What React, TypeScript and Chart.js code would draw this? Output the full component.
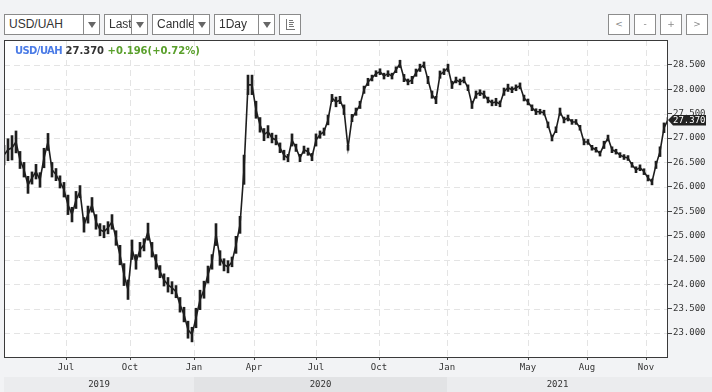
import React, { useEffect, useRef } from "react";
import { Chart, registerables } from "chart.js";

Chart.register(...registerables);

// ---- data (one value every 4 trading sessions) ----
const SESSION_STEP = 4;
const closes = [
  26.65, 26.76, 26.80, 26.92, 26.55, 26.35, 26.04, 26.18, 26.31, 26.14,
  26.59, 26.92, 26.35, 26.25, 26.10, 25.94, 25.63, 25.43, 25.73, 25.90,
  25.22, 25.43, 25.63, 25.28, 25.12, 25.08, 25.16, 25.28, 24.95, 24.60,
  24.20, 23.89, 24.71, 24.46, 24.71, 24.81, 25.08, 24.71, 24.46, 24.26,
  24.09, 23.99, 23.93, 23.85, 23.58, 23.38, 23.07, 22.97, 23.31, 23.68,
  23.89, 24.20, 24.46, 25.02, 24.54, 24.40, 24.36, 24.46, 24.81, 25.22,
  26.35, 28.09, 28.09, 27.58, 27.27, 27.07, 27.13, 27.00, 26.96, 26.80,
  26.65, 26.59, 26.96, 26.80, 26.59, 26.76, 26.72, 26.61, 26.96, 27.07,
  27.13, 27.37, 27.82, 27.74, 27.78, 27.58, 26.80, 27.41, 27.54, 27.68,
  27.99, 28.15, 28.23, 28.32, 28.36, 28.27, 28.32, 28.27, 28.40, 28.52,
  28.23, 28.15, 28.19, 28.34, 28.44, 28.50, 28.19, 27.89, 27.78, 28.30,
  28.36, 28.44, 28.09, 28.19, 28.15, 28.19, 28.03, 27.68, 27.89, 27.93,
  27.89, 27.78, 27.72, 27.74, 27.70, 27.95, 28.03, 27.99, 28.03, 28.07,
  27.82, 27.74, 27.62, 27.54, 27.54, 27.52, 27.27, 27.00, 27.17, 27.54,
  27.37, 27.41, 27.33, 27.33, 27.21, 26.92, 26.92, 26.80, 26.76, 26.68,
  26.86, 27.00, 26.76, 26.72, 26.65, 26.61, 26.59, 26.45, 26.35, 26.39,
  26.31, 26.18, 26.10, 26.45, 26.72, 27.21, 27.37,
];
// high-low spread of each 4-session block (UAH)
const spreads = [
  0.40, 0.45, 0.50, 0.45, 0.35, 0.30, 0.35, 0.25, 0.30, 0.30,
  0.40, 0.35, 0.30, 0.25, 0.25, 0.30, 0.40, 0.30, 0.35, 0.25,
  0.30, 0.35, 0.30, 0.30, 0.25, 0.25, 0.25, 0.30, 0.30, 0.40,
  0.45, 0.40, 0.40, 0.30, 0.30, 0.25, 0.35, 0.30, 0.30, 0.25,
  0.25, 0.30, 0.25, 0.25, 0.30, 0.30, 0.35, 0.30, 0.40, 0.40,
  0.35, 0.35, 0.30, 0.45, 0.30, 0.25, 0.25, 0.20, 0.35, 0.35,
  0.60, 0.40, 0.40, 0.35, 0.30, 0.25, 0.25, 0.20, 0.20, 0.20,
  0.20, 0.15, 0.25, 0.15, 0.15, 0.15, 0.15, 0.15, 0.25, 0.15,
  0.15, 0.20, 0.15, 0.20, 0.15, 0.20, 0.10, 0.15, 0.15, 0.15,
  0.15, 0.15, 0.12, 0.12, 0.12, 0.12, 0.12, 0.12, 0.12, 0.15,
  0.15, 0.12, 0.15, 0.15, 0.15, 0.12, 0.15, 0.15, 0.15, 0.15,
  0.12, 0.15, 0.15, 0.12, 0.12, 0.12, 0.12, 0.15, 0.15, 0.12,
  0.15, 0.12, 0.12, 0.15, 0.12, 0.15, 0.15, 0.12, 0.12, 0.12,
  0.12, 0.12, 0.12, 0.12, 0.10, 0.10, 0.12, 0.12, 0.12, 0.15,
  0.12, 0.12, 0.10, 0.10, 0.10, 0.12, 0.10, 0.10, 0.10, 0.10,
  0.15, 0.12, 0.12, 0.10, 0.10, 0.10, 0.10, 0.10, 0.12, 0.12,
  0.12, 0.12, 0.12, 0.15, 0.20, 0.20, 0.10,
];

const monthLabels = ["Jul", "Oct", "Jan", "Apr", "Jul", "Oct", "Jan", "May", "Aug", "Nov"];
const monthSessions = [62, 126, 190, 250, 312, 375, 443, 524, 583, 642];
const yearLabels = ["2019", "2020", "2021"];
const yearStartSessions = [0, 190, 443];
const yTicks = [23.0, 23.5, 24.0, 24.5, 25.0, 25.5, 26.0, 26.5, 27.0, 27.5, 28.0, 28.5];
const Y_MIN = 22.51;
const Y_MAX = 29.01;
const X_MAX = 664;

const symbol = "USD/UAH";
const lastPrice = 27.37;
const change = 0.196;
const changePct = 0.72;

const BG = "#f2f3f5";
const INK = "#1e1e1e";
const AXIS_FONT = { family: "'DejaVu Sans Mono', monospace", size: 9 };

const decorPlugin = {
  id: "decor",
  beforeDraw(chart: any) {
    const { ctx, chartArea: a, width, height } = chart;
    ctx.save();
    ctx.fillStyle = BG;
    ctx.fillRect(0, 0, width, height);
    ctx.fillStyle = "#ffffff";
    ctx.fillRect(a.left, a.top, a.right - a.left, a.bottom - a.top);
    const x = chart.scales.x;
    const bandTop = a.bottom + 20;
    const shades = ["#ebecee", "#e2e3e5", "#ebecee"];
    for (let i = 0; i < yearLabels.length; i++) {
      const x0 = i === 0 ? a.left : x.getPixelForValue(yearStartSessions[i]);
      const x1 = i + 1 < yearLabels.length ? x.getPixelForValue(yearStartSessions[i + 1]) : width;
      ctx.fillStyle = shades[i];
      ctx.fillRect(x0, bandTop, x1 - x0, height - bandTop);
      ctx.fillStyle = "#333";
      ctx.font = `${AXIS_FONT.size}px ${AXIS_FONT.family}`;
      ctx.textAlign = "center";
      ctx.textBaseline = "middle";
      const cx = i + 1 < yearLabels.length ? (x0 + x1) / 2 : (x0 + a.right) / 2;
      ctx.fillText(yearLabels[i], cx, bandTop + 8);
    }
    ctx.restore();
  },
  beforeDatasetsDraw(chart: any) {
    const { ctx, chartArea: a, scales } = chart;
    ctx.save();
    ctx.strokeStyle = "#e4e4e4";
    ctx.lineWidth = 1;
    ctx.setLineDash([6, 4]);
    ctx.beginPath();
    for (const v of yTicks) {
      const py = Math.round(scales.y.getPixelForValue(v)) + 0.5;
      ctx.moveTo(a.left, py);
      ctx.lineTo(a.right, py);
    }
    for (const s of monthSessions) {
      const px = Math.round(scales.x.getPixelForValue(s)) + 0.5;
      ctx.moveTo(px, a.top);
      ctx.lineTo(px, a.bottom);
    }
    ctx.stroke();
    ctx.restore();
  },
  afterDraw(chart: any) {
    const { ctx, chartArea: a, scales } = chart;
    ctx.save();
    ctx.strokeStyle = "#3a3a3a";
    ctx.lineWidth = 1;
    ctx.strokeRect(a.left + 0.5, a.top + 0.5, a.right - a.left - 1, a.bottom - a.top);
    const py = Math.round(scales.y.getPixelForValue(lastPrice));
    const x0 = a.right;
    ctx.fillStyle = "#222";
    ctx.beginPath();
    ctx.moveTo(x0, py);
    ctx.lineTo(x0 + 5, py - 5);
    ctx.lineTo(x0 + 38, py - 5);
    ctx.lineTo(x0 + 38, py + 5.5);
    ctx.lineTo(x0 + 5, py + 5.5);
    ctx.closePath();
    ctx.fill();
    ctx.fillStyle = "#fff";
    ctx.font = `${AXIS_FONT.size}px ${AXIS_FONT.family}`;
    ctx.textAlign = "left";
    ctx.textBaseline = "middle";
    ctx.fillText(lastPrice.toFixed(3), x0 + 5, py + 0.5);
    ctx.restore();
  },
};

const selBox = (left: number, width: number, divider: number, label: string) => (
  <div
    style={{
      position: "absolute",
      left,
      top: 14,
      width: width - 2,
      height: 19,
      border: "1px solid #8a8a8a",
      background: "#fff",
      overflow: "hidden",
      fontFamily: "'Liberation Sans', Arial, sans-serif",
      fontSize: 12,
      lineHeight: "19px",
      color: "#333",
    }}
  >
    <div style={{ position: "absolute", left: 4, top: 0, width: divider - left - 5, overflow: "hidden", whiteSpace: "nowrap" }}>
      {label}
    </div>
    <div
      style={{
        position: "absolute",
        left: divider - left - 1,
        top: 0,
        bottom: 0,
        right: 0,
        borderLeft: "1px solid #8a8a8a",
      }}
    >
      <div
        style={{
          position: "absolute",
          left: "50%",
          top: 7,
          marginLeft: -4,
          width: 0,
          height: 0,
          borderLeft: "4px solid transparent",
          borderRight: "4px solid transparent",
          borderTop: "6px solid #666",
        }}
      />
    </div>
  </div>
);

const navBtn = (left: number, label: string) => (
  <div
    style={{
      position: "absolute",
      left,
      top: 14,
      width: 20,
      height: 19,
      border: "1px solid #8c8c8c",
      background: "#fff",
      textAlign: "center",
      lineHeight: "19px",
      fontFamily: "'DejaVu Sans', sans-serif",
      fontSize: 9,
      color: "#888",
    }}
  >
    {label}
  </div>
);

export default function App() {
  const ref = useRef<HTMLCanvasElement | null>(null);

  useEffect(() => {
    if (!ref.current) return;
    const points = closes.map((v, i) => ({ x: i * SESSION_STEP, y: v }));
    const ranges = closes.map((v, i) => ({ x: i * SESSION_STEP, y: [v - spreads[i] / 2, v + spreads[i] / 2] }));
    const chart = new Chart(ref.current, {
      type: "line",
      data: {
        datasets: [
          {
            type: "line",
            data: points,
            borderColor: INK,
            borderWidth: 1.6,
            pointRadius: 0,
            tension: 0,
          },
          {
            type: "bar",
            data: ranges as any,
            backgroundColor: INK,
            borderWidth: 0,
            barThickness: 2,
            grouped: false,
          } as any,
        ],
      },
      options: {
        animation: false,
        responsive: false,
        events: [],
        layout: { padding: { left: 4, top: 40, right: 0, bottom: 0 } },
        plugins: { legend: { display: false }, tooltip: { enabled: false } },
        scales: {
          x: {
            type: "linear",
            min: 0,
            max: X_MAX,
            offset: false,
            position: "bottom",
            border: { display: false },
            grid: { drawOnChartArea: false, drawTicks: true, tickLength: 3, tickColor: "#444", offset: false },
            ticks: {
              autoSkip: false,
              maxRotation: 0,
              padding: 2,
              color: "#333",
              font: AXIS_FONT,
              callback: (_v: any, i: number) => monthLabels[i],
            },
            afterBuildTicks: (s: any) => {
              s.ticks = monthSessions.map((v) => ({ value: v }));
            },
            afterFit: (s: any) => {
              s.height = 35;
            },
          },
          y: {
            type: "linear",
            position: "right",
            min: Y_MIN,
            max: Y_MAX,
            border: { display: false },
            grid: { drawOnChartArea: false, drawTicks: true, tickLength: 4, tickColor: "#444" },
            ticks: {
              padding: 1,
              color: "#333",
              font: AXIS_FONT,
              callback: (v: any) => Number(v).toFixed(3),
            },
            afterBuildTicks: (s: any) => {
              s.ticks = yTicks.map((v) => ({ value: v }));
            },
            afterFit: (s: any) => {
              s.width = 44;
            },
          },
        },
      },
      plugins: [decorPlugin],
    });
    return () => chart.destroy();
  }, []);

  return (
    <div style={{ position: "fixed", left: 0, top: 0, width: 712, height: 392, background: BG, overflow: "hidden" }}>
      <canvas ref={ref} width={712} height={392} style={{ position: "absolute", left: 0, top: 0, width: 712, height: 392 }} />
      {selBox(4, 96, 83, symbol)}
      {selBox(104, 44, 131, "Last")}
      {selBox(152, 58, 193, "Candle")}
      {selBox(214, 61, 258, "1Day")}
      <div
        style={{
          position: "absolute",
          left: 279,
          top: 14,
          width: 20,
          height: 19,
          border: "1px solid #8a8a8a",
          background: "#fff",
        }}
      >
        <svg width={20} height={19} style={{ position: "absolute", left: 0, top: 0 }}>
          <g stroke="#777" strokeWidth={1}>
            <line x1={6.5} y1={4} x2={6.5} y2={15} />
            <line x1={6} y1={14.5} x2={15} y2={14.5} />
            <line x1={9} y1={5.5} x2={13} y2={5.5} />
            <line x1={9} y1={7.5} x2={14} y2={7.5} />
            <line x1={9} y1={9.5} x2={13} y2={9.5} />
            <line x1={9} y1={11.5} x2={14} y2={11.5} />
          </g>
        </svg>
      </div>
      {navBtn(608, "<")}
      {navBtn(634, "-")}
      {navBtn(660, "+")}
      {navBtn(686, ">")}
      <div
        style={{
          position: "absolute",
          left: 15,
          top: 45,
          height: 12,
          lineHeight: "12px",
          whiteSpace: "nowrap",
          fontFamily: "'DejaVu Sans', sans-serif",
          fontWeight: "bold",
          fontSize: 10,
        }}
      >
        <span style={{ color: "#4a7be6", letterSpacing: "-0.6px" }}>{symbol}</span>{" "}
        <span style={{ color: "#333" }}>{lastPrice.toFixed(3)}</span>{" "}
        <span style={{ color: "#5aa02c" }}>
          {(change >= 0 ? "+" : "") + change.toFixed(3)}({(changePct >= 0 ? "+" : "") + changePct.toFixed(2)}%)
        </span>
      </div>
    </div>
  );
}
